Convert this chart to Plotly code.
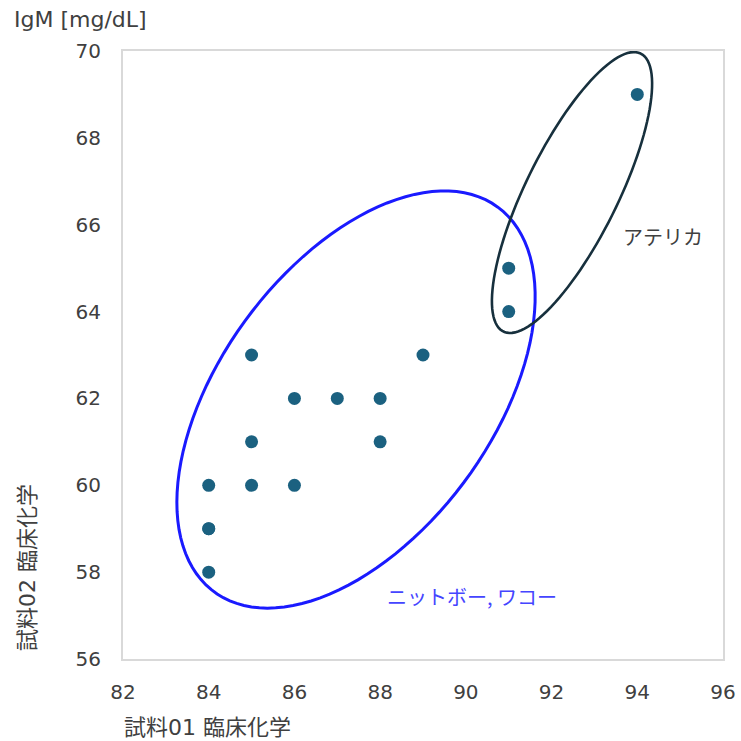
import numpy as np
import plotly.graph_objects as go

# ---- data ----
x_vals = [84, 84, 84, 84, 85, 85, 85, 86, 86, 87, 88, 88, 89, 91, 91, 94]
y_vals = [58, 59, 59, 60, 60, 61, 63, 60, 62, 62, 62, 61, 63, 64, 65, 69]
x_ticks = [82, 84, 86, 88, 90, 92, 94, 96]
y_ticks = [56, 58, 60, 62, 64, 66, 68, 70]

x_title = "試料01 臨床化学"
y_title = "試料02 臨床化学"
unit_label = "IgM [mg/dL]"
group_a = "ニットボー, ワコー"
group_b = "アテリカ"

# ---- layout geometry ----
W, H = 741, 741
ML, MR, MT, MB = 123, 18, 51, 82
PW, PH = W - ML - MR, H - MT - MB
XR, YR = (82, 96), (56, 70)
sx = PW / (XR[1] - XR[0])
sy = PH / (YR[1] - YR[0])


def ellipse_path(cx, cy, a_px, b_px, ang_deg, n=120):
    th = np.deg2rad(ang_deg)
    t = np.linspace(0, 2 * np.pi, n)
    dx = a_px * np.cos(t) * np.cos(th) - b_px * np.sin(t) * np.sin(th)
    dy = a_px * np.cos(t) * np.sin(th) + b_px * np.sin(t) * np.cos(th)
    xs = cx + dx / sx
    ys = cy + dy / sy
    p = "M " + " L ".join(f"{x:.4f},{y:.4f}" for x, y in zip(xs, ys)) + " Z"
    return p


TXT = "#404040"
fig = go.Figure()
fig.add_trace(go.Scatter(
    x=x_vals, y=y_vals, mode="markers",
    marker=dict(size=13, color="#1b6180"),
    showlegend=False, hoverinfo="x+y",
))

fig.add_shape(type="path", xref="x", yref="y",
              path=ellipse_path(87.437, 61.975, 239, 136, 53.6),
              line=dict(color="#1a1aff", width=3))
fig.add_shape(type="path", xref="x", yref="y",
              path=ellipse_path(92.477, 66.741, 155, 46, 63.7),
              line=dict(color="#17303d", width=2.6))

anns = [
    dict(text=unit_label, xref="paper", yref="paper", x=(12 - ML) / PW, y=(H - MB - 19) / PH,
         xanchor="left", yanchor="middle", showarrow=False,
         font=dict(family="DejaVu Sans", size=22, color=TXT)),
    dict(text=x_title, xref="paper", yref="paper", x=(122 - ML) / PW, y=(H - MB - 727) / PH,
         xanchor="left", yanchor="middle", showarrow=False,
         font=dict(family="DejaVu Sans, Noto Sans CJK JP", size=22, color=TXT)),
    dict(text=y_title, xref="paper", yref="paper", x=(27 - ML) / PW, y=(H - MB - 568) / PH,
         xanchor="center", yanchor="middle", showarrow=False, textangle=-90,
         font=dict(family="DejaVu Sans, Noto Sans CJK JP", size=22, color=TXT)),
    dict(text=group_b, xref="x", yref="y", x=94.6, y=65.72,
         xanchor="center", yanchor="middle", showarrow=False,
         font=dict(family="Noto Sans CJK JP", size=20, color=TXT)),
    dict(text=group_a, xref="x", yref="y", x=90.14, y=57.43,
         xanchor="center", yanchor="middle", showarrow=False,
         font=dict(family="Noto Sans CJK JP", size=20, color="#4545ff")),
]

axis_common = dict(showgrid=False, zeroline=False, showline=True, mirror=True,
                   linecolor="#d9d9d9", linewidth=2, ticks="", automargin=False,
                   tickfont=dict(family="DejaVu Sans", size=20, color=TXT))

fig.update_layout(
    width=W, height=H,
    margin=dict(l=ML, r=MR, t=MT, b=MB, pad=0, autoexpand=False),
    paper_bgcolor="white", plot_bgcolor="white",
    xaxis=dict(range=list(XR), tickvals=x_ticks, ticktext=[str(v) for v in x_ticks],
               ticklabelstandoff=14, **axis_common),
    yaxis=dict(range=list(YR), tickvals=y_ticks, ticktext=[str(v) for v in y_ticks],
               ticklabelstandoff=16, **axis_common),
    annotations=anns,
    showlegend=False,
)

fig.write_html("out.html",
               config={"displayModeBar": False},
               post_script="document.body.style.margin='0';document.body.style.overflow='hidden';")
